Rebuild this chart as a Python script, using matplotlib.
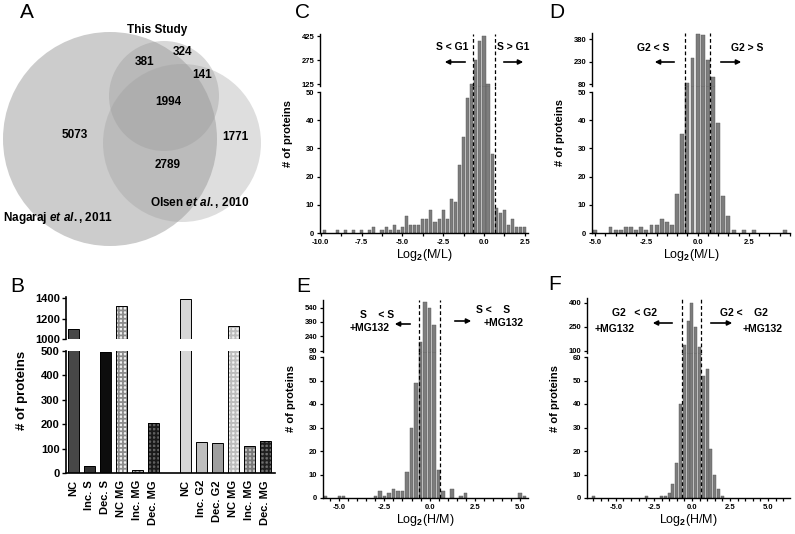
import numpy as np
import matplotlib.pyplot as plt
from matplotlib.patches import Circle, FancyArrowPatch

plt.rcParams['font.family'] = ['Liberation Sans', 'DejaVu Sans']
plt.rcParams['font.weight'] = 'bold'
plt.rcParams['axes.unicode_minus'] = False
plt.rcParams['mathtext.fontset'] = 'custom'
plt.rcParams['mathtext.rm'] = 'Liberation Sans:bold'
plt.rcParams['mathtext.it'] = 'Liberation Sans:italic:bold'
plt.rcParams['mathtext.bf'] = 'Liberation Sans:bold'
plt.rcParams['hatch.linewidth'] = 1.3

W, H = 795, 534

# A - venn region counts (this only, this+nag, this+olsen, all, nag only, olsen only, nag+olsen)
venn_counts = [324, 381, 141, 1994, 5073, 1771, 2789]
venn_xy = [(183, 52), (145, 62), (202, 75), (168, 102), (75, 135), (235, 137), (168, 165)]

# B - number of proteins per class
b_labels = ['NC', 'Inc. S', 'Dec. S', 'NC MG', 'Inc. MG', 'Dec. MG',
            'NC', 'Inc. G2', 'Dec. G2', 'NC MG', 'Inc. MG', 'Dec. MG']
b_counts = [1098, 30, 495, 1325, 12, 203, 1395, 127, 122, 1130, 112, 131]
b_pos = [0, 1, 2, 3, 4, 5, 7, 8, 9, 10, 11, 12]
b_face = ['#474747', '#333333', '#0d0d0d', '#f0f0f0', '#b0b0b0', '#606060',
          '#d6d6d6', '#bebebe', '#9e9e9e', '#f2f2f2', '#c0c0c0', '#707070']
b_hatch = [None, None, None, '++++', '++++', '++++',
           None, None, None, '++++', '++++', '++++']
b_hcol = ['black', 'black', 'black', '#8c8c8c', '#505050', '#1a1a1a',
          'black', 'black', 'black', '#bcbcbc', '#787878', '#202020']

# C - log2(M/L), S vs G1
c_x = [-9.75, -9.0, -8.5, -8.0, -7.5, -7.0, -6.75, -6.25, -6.0, -5.75, -5.5, -5.25,
       -5.0, -4.75, -4.5, -4.25, -4.0, -3.75, -3.5, -3.25, -3.0, -2.75,
       -2.5, -2.25, -2.0, -1.75, -1.5, -1.25, -1.0, -0.75, -0.5, -0.25,
       0.0, 0.25, 0.5, 0.75, 1.0, 1.25, 1.5, 1.75, 2.0, 2.25, 2.5]
c_n = [1, 1, 1, 1, 1, 1, 2, 1, 2, 1, 3, 1,
       2, 6, 3, 3, 3, 5, 5, 8, 4, 5,
       8, 5, 12, 11, 24, 34, 48, 130, 275, 395,
       425, 130, 28, 9, 7, 8, 3, 5, 2, 2, 2]

# D - log2(M/L), G2 vs S
d_x = [-5.0, -4.25, -4.0, -3.75, -3.5, -3.25, -3.0, -2.75, -2.5, -2.25,
       -2.0, -1.75, -1.5, -1.25, -1.0, -0.75, -0.5, -0.25, 0.0, 0.25,
       0.5, 0.75, 1.0, 1.25, 1.5, 1.75, 2.25, 2.75, 4.25]
d_n = [1, 2, 1, 1, 2, 2, 1, 2, 1, 3,
       3, 5, 4, 3, 14, 35, 87, 255, 415, 410,
       240, 130, 39, 13, 6, 1, 1, 1, 1]

# E - log2(H/M), S+MG132 vs S
e_x = [-5.75, -5.0, -4.75, -3.0, -2.75, -2.5, -2.25, -2.0, -1.75, -1.5,
       -1.25, -1.0, -0.75, -0.5, -0.25, 0.0, 0.25, 0.5, 0.75, 1.25,
       1.75, 2.0, 5.0, 5.25]
e_n = [1, 1, 1, 1, 3, 1, 2, 4, 3, 3,
       11, 30, 49, 183, 600, 535, 360, 12, 3, 4,
       1, 2, 2, 1]

# F - log2(H/M), G2+MG132 vs G2
f_x = [-6.5, -3.0, -2.0, -1.75, -1.5, -1.25, -1.0, -0.75, -0.5, -0.25,
       0.0, 0.25, 0.5, 0.75, 1.0, 1.25, 1.5, 1.75, 2.0]
f_n = [1, 1, 1, 1, 2, 6, 15, 40, 137, 285,
       398, 252, 127, 52, 55, 21, 10, 4, 1]

fig = plt.figure(figsize=(7.95, 5.34), dpi=100)


def add_px(l, t, r, b):
    return fig.add_axes([l / W, 1 - b / H, (r - l) / W, (b - t) / H])


def ftext(x, y, s, **kw):
    fig.text(x / W, 1 - y / H, s, **kw)


def arrow(x0, x1, y):
    fig.add_artist(FancyArrowPatch((x0 / W, 1 - y / H), (x1 / W, 1 - y / H),
                                   transform=fig.transFigure, arrowstyle='-|>',
                                   mutation_scale=7, lw=1.2, color='black'))


# panel letters
for lab, x, y in [('A', 27, 13), ('B', 17, 287), ('C', 303, 13),
                  ('D', 557, 13), ('E', 303, 287), ('F', 555, 285)]:
    ftext(x, y, lab, fontsize=15, fontweight='normal', ha='center', va='center')

# ---------- A : venn ----------
axa = add_px(0, 0, 265, 260)
axa.set_xlim(0, 265)
axa.set_ylim(260, 0)
axa.axis('off')
axa.add_patch(Circle((110, 139), 107, fc='#9a9a9a', alpha=0.5, ec='none'))
axa.add_patch(Circle((182, 143), 79, fc='#9a9a9a', alpha=0.32, ec='none'))
axa.add_patch(Circle((164, 96), 55, fc='#9a9a9a', alpha=0.38, ec='none'))
for n, (x, y) in zip(venn_counts, venn_xy):
    axa.text(x, y, str(n), fontsize=8.5, ha='center', va='center')
axa.text(157, 30, 'This Study', fontsize=8.5, ha='center', va='center')
axa.text(200, 202, r'Olsen $\mathit{et\ al.}$, 2010', fontsize=8.5, ha='center', va='center')
axa.text(58, 218, r'Nagaraj $\mathit{et\ al.}$, 2011', fontsize=8.5, ha='center', va='center')

# ---------- B : broken bar chart ----------
axbt = add_px(66, 297, 275, 339)
axbb = add_px(66, 351, 275, 473)
for ax in (axbt, axbb):
    for i in range(len(b_counts)):
        ax.bar(b_pos[i], b_counts[i], width=0.7, color=b_face[i], hatch=b_hatch[i],
               edgecolor=b_hcol[i], lw=0)
        ax.bar(b_pos[i], b_counts[i], width=0.7, fill=False, edgecolor='black', lw=0.7)
    ax.set_xlim(-0.46, 12.6)
    ax.spines['top'].set_visible(False)
    ax.spines['right'].set_visible(False)
    ax.spines['left'].set_linewidth(1.2)
    ax.tick_params(axis='y', labelsize=8, length=3, width=1, pad=1.5)
axbt.set_ylim(1000, 1410)
axbt.set_yticks([1000, 1200, 1400])
axbt.spines['bottom'].set_visible(False)
axbt.tick_params(axis='x', bottom=False, labelbottom=False)
axbb.set_ylim(0, 500)
axbb.set_yticks([0, 100, 200, 300, 400, 500])
axbb.spines['bottom'].set_linewidth(1.2)
axbb.set_xticks(b_pos)
axbb.set_xticklabels(b_labels, rotation=90, fontsize=8)
axbb.tick_params(axis='x', length=0, pad=5)
ftext(22, 390, '# of proteins', fontsize=9.5, rotation=90, ha='center', va='center')


# ---------- C-F : broken histograms ----------
def hist_panel(xs, ns, box, up_tb, xlim, xticks, minor, low_lim, low_ticks,
               up_lim, up_ticks, thr, xlabel):
    l, t, r, b = box
    t_up, b_up = up_tb
    ax_lo = add_px(l, t, r, b)
    ax_up = add_px(l, t_up, r, b_up)
    ext = (b - b_up) / (b - t)
    # lower part: bars run on through the break up to the upper part
    cap = low_lim[1] * ext
    ax_lo.bar(xs, np.minimum(ns, cap), width=0.19, color='#7d7d7d',
              edgecolor='#555555', lw=0.3, clip_on=False)
    ax_up.bar(xs, ns, width=0.19, color='#7d7d7d', edgecolor='#555555', lw=0.3)
    for ax in (ax_lo, ax_up):
        ax.patch.set_visible(False)
        ax.set_xlim(xlim)
        ax.spines['top'].set_visible(False)
        ax.spines['right'].set_visible(False)
        for s in ('left', 'bottom'):
            ax.spines[s].set_linewidth(1.0)
        ax.tick_params(labelsize=5.5, length=2.5, width=0.9, pad=1.5, which='both')
    ax_up.spines['bottom'].set_visible(False)
    ax_up.tick_params(axis='x', which='both', bottom=False, labelbottom=False)
    ax_lo.set_ylim(low_lim)
    ax_lo.set_yticks(low_ticks)
    ax_up.set_ylim(up_lim)
    ax_up.set_yticks(up_ticks)
    ax_lo.set_xticks(xticks)
    ax_lo.set_xticklabels(['%.1f' % v for v in xticks])
    ax_lo.set_xticks(minor, minor=True)
    ax_lo.tick_params(axis='x', which='minor', length=2)
    for v in (-thr, thr):
        ax_lo.axvline(v, 0, ext, color='black', lw=0.9, ls=(0, (3, 2)), clip_on=False,
                      zorder=5)
        ax_up.axvline(v, 0, 1, color='black', lw=0.9, ls=(0, (3, 2)), zorder=5)
    ax_lo.set_xlabel(xlabel, fontsize=9, labelpad=1)
    ftext(l - 32, (t_up + b) / 2, '# of proteins', fontsize=8, rotation=90,
          ha='center', va='center')


hist_panel(c_x, c_n, (320, 92, 528, 233), (34, 86), (-10.05, 2.7),
           [-10.0, -7.5, -5.0, -2.5, 0.0, 2.5], [-8.75, -6.25, -3.75, -1.25, 1.25],
           (0, 50), [0, 10, 20, 30, 40, 50], (115, 440), [125, 275, 425],
           0.66, r'Log$_2$(M/L)')
hist_panel(d_x, d_n, (592, 92, 790, 233), (33, 86), (-5.15, 4.5),
           [-5.0, -2.5, 0.0, 2.5], np.arange(-4.5, 4.6, 0.5),
           (0, 50), [0, 10, 20, 30, 40, 50], (68, 422), [80, 230, 380],
           0.61, r'Log$_2$(M/L)')
hist_panel(e_x, e_n, (323, 357, 528, 498), (300, 352), (-5.9, 5.45),
           [-5.0, -2.5, 0.0, 2.5, 5.0], np.arange(-5.5, 5.5, 0.5),
           (0, 60), [0, 10, 20, 30, 40, 50, 60], (75, 620), [90, 240, 390, 540],
           0.59, r'Log$_2$(H/M)')
hist_panel(f_x, f_n, (587, 357, 790, 498), (298, 353), (-6.9, 6.45),
           [-5.0, -2.5, 0.0, 2.5, 5.0], np.arange(-6.5, 6.5, 0.5),
           (0, 60), [0, 10, 20, 30, 40, 50, 60], (87, 431), [100, 250, 400],
           0.625, r'Log$_2$(H/M)')

# annotations
ann = dict(fontsize=7.5)
ftext(452, 47, 'S < G1', ha='center', va='center', **ann)
arrow(468, 442, 62)
ftext(513, 47, 'S > G1', ha='center', va='center', **ann)
arrow(501, 526, 62)

ftext(653, 48, 'G2 < S', ha='center', va='center', **ann)
arrow(677, 652, 62)
ftext(747, 48, 'G2 > S', ha='center', va='center', **ann)
arrow(718, 744, 62)

ftext(360, 315, 'S    < S', ha='left', va='center', **ann)
ftext(350, 328, '+MG132', ha='left', va='center', **ann)
arrow(413, 392, 324)
ftext(476, 310, 'S <    S', ha='left', va='center', **ann)
ftext(484, 323, '+MG132', ha='left', va='center', **ann)
arrow(452, 474, 321)

ftext(612, 313, 'G2   < G2', ha='left', va='center', **ann)
ftext(595, 329, '+MG132', ha='left', va='center', **ann)
arrow(675, 650, 323)
ftext(720, 313, 'G2 <    G2', ha='left', va='center', **ann)
ftext(743, 329, '+MG132', ha='left', va='center', **ann)
arrow(708, 735, 323)

fig.savefig('out.png', dpi=100)
